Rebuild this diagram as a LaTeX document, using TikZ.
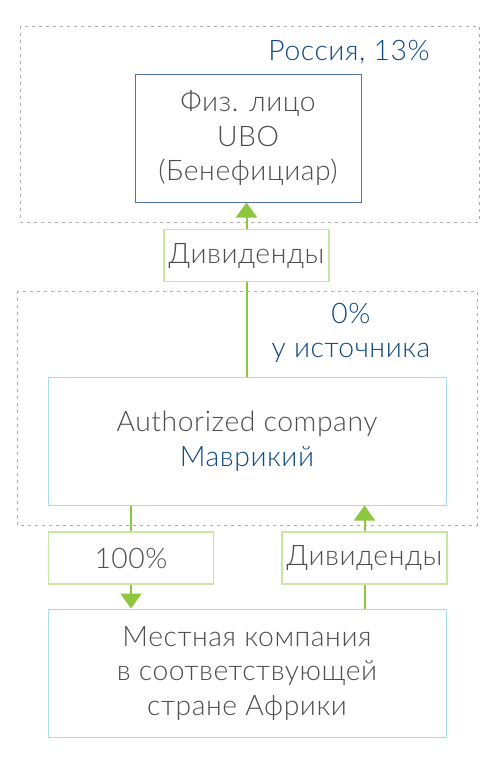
\documentclass[tikz,border=0pt]{standalone}
\usepackage{fontspec}
\IfFontExistsTF{Lato Light}{\setmainfont{Lato Light}[LetterSpace=2]}{\setmainfont{Liberation Sans}}
\usetikzlibrary{arrows.meta}
\definecolor{txt}{HTML}{4D4D4D}
\definecolor{blu}{HTML}{0E4A84}
\definecolor{ubob}{HTML}{5472A8}
\definecolor{cyb}{HTML}{A6DBEA}
\definecolor{grn}{HTML}{8DC63F}
\definecolor{lgrn}{HTML}{C9E6A2}
\definecolor{dgray}{HTML}{AAAAAA}
\tikzset{
  x=1pt, y=-1pt,
  base/.style={font=\fontsize{28.3}{34.5}\selectfont, text=txt, align=center, inner sep=0pt},
  ubobox/.style={base, draw=ubob, line width=1pt, minimum width=226pt, minimum height=128pt},
  cybox/.style={base, draw=cyb, line width=1pt, minimum width=398pt, minimum height=128pt},
  lbl/.style={base, draw=lgrn, line width=1.2pt, minimum width=165pt, minimum height=52pt},
  zone/.style={draw=dgray, line width=0.9pt, dash pattern=on 3pt off 4pt},
  gline/.style={draw=grn, line width=2pt},
  arr/.style={gline, -{Triangle[width=21pt,length=15pt]}, shorten >=0pt},
  note/.style={base, text=blu}
}
\begin{document}
\begin{tikzpicture}
\useasboundingbox (0,0) rectangle (497,761);
\draw[zone] (20,26) rectangle (479,222);
\draw[zone] (17,291) rectangle (477,525);
\node[note] (ru) at (349,52) {Россия, 13\%};
\node[note] (src) at (351,333) {0\%\\у источника};
\node[ubobox] (ubo) at (248,138) {Физ. лицо\\UBO\\(Бенефициар)};
\node[lbl] (div1) at (246.5,255.5) {Дивиденды};
\node[cybox] (auth) at (247,441) {Authorized company\\\textcolor{blu}{Маврикий}};
\node[lbl] (pct) at (131,558) {100\%};
\node[lbl] (div2) at (364.5,558) {Дивиденды};
\node[cybox] (loc) at (247,673) {Местная компания\\в соответствующей\\стране Африки};
\draw[arr] (div1.north) -- (div1.north |- ubo.south);
\draw[gline] (div1.south) -- (div1.south |- auth.north);
\draw[gline] (pct.north |- auth.south) -- (pct.north);
\draw[arr] (pct.south) -- (pct.south |- loc.north);
\draw[gline] (div2.south |- loc.north) -- (div2.south);
\draw[arr] (div2.north) -- (div2.north |- auth.south);
\end{tikzpicture}
\end{document}
